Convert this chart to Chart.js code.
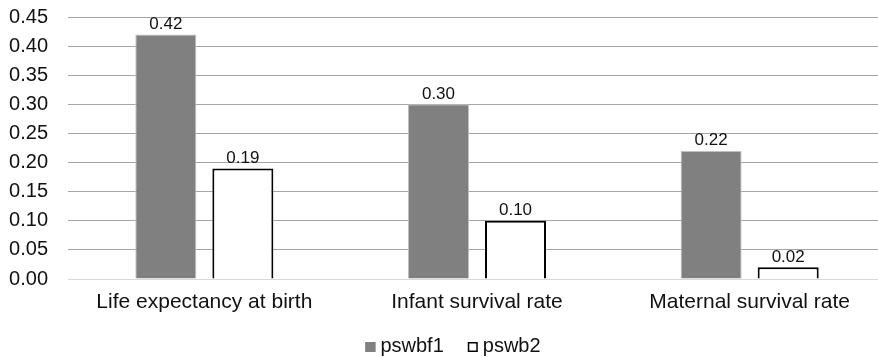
<!DOCTYPE html>
<html>
<head>
<meta charset="utf-8">
<script src="https://cdn.jsdelivr.net/npm/chart.js@4/dist/chart.umd.min.js"></script>
<style>
  html, body { margin: 0; padding: 0; background: #fff; overflow: hidden; }
  #wrap { width: 886px; height: 357px; }
</style>
</head>
<body>
<div id="wrap"><canvas id="c" width="886" height="357"></canvas></div>
<script>
const categories = ['Life expectancy at birth', 'Infant survival rate', 'Maternal survival rate'];
const seriesNames = ['pswbf1', 'pswb2'];
const pswbf1 = [0.42, 0.30, 0.22];
const pswb2 = [0.19, 0.10, 0.02];
const yTicks = [0.00, 0.05, 0.10, 0.15, 0.20, 0.25, 0.30, 0.35, 0.40, 0.45];

const FONT = '"Liberation Sans", Arial, sans-serif';

// value labels above each bar
const valueLabels = {
  id: 'valueLabels',
  afterDatasetsDraw(chart) {
    const ctx = chart.ctx;
    ctx.save();
    ctx.font = '17px ' + FONT;
    ctx.fillStyle = '#111';
    ctx.textAlign = 'center';
    ctx.textBaseline = 'bottom';
    chart.data.datasets.forEach((ds, i) => {
      chart.getDatasetMeta(i).data.forEach((el, j) => {
        ctx.fillText(ds.data[j].toFixed(2), el.x, el.y - 2);
      });
    });
    ctx.restore();
  }
};

// legend under the axis: square marker followed by the series name
const squareLegend = {
  id: 'squareLegend',
  afterDraw(chart) {
    const ctx = chart.ctx;
    ctx.save();
    ctx.font = '20px ' + FONT;
    ctx.textBaseline = 'middle';
    const box = 10, gapText = 5, gapItem = 24;
    const items = chart.data.datasets.map(ds => ({
      text: ds.label, fill: ds.backgroundColor, stroke: ds.legendStroke
    }));
    let total = 0;
    items.forEach((it, i) => {
      it.w = box + gapText + ctx.measureText(it.text).width;
      total += it.w + (i ? gapItem : 0);
    });
    const cy = 346;
    let x = (chart.chartArea.left + chart.chartArea.right) / 2 - 24 - total / 2;
    items.forEach(it => {
      ctx.fillStyle = it.fill;
      ctx.fillRect(x, cy - box / 2 + 1, box, box);
      ctx.strokeStyle = it.stroke;
      ctx.lineWidth = 1.5;
      ctx.strokeRect(x + 0.75, cy - box / 2 + 1.75, box - 1.5, box - 1.5);
      ctx.fillStyle = '#111';
      ctx.textAlign = 'left';
      ctx.fillText(it.text, x + box + gapText, cy);
      x += it.w + gapItem;
    });
    ctx.restore();
  }
};

new Chart(document.getElementById('c'), {
  type: 'bar',
  data: {
    labels: categories,
    datasets: [
      {
        label: seriesNames[0],
        data: pswbf1,
        backgroundColor: '#808080',
        borderColor: '#bfbfbf',
        borderWidth: 1,
        borderSkipped: 'bottom',
        legendStroke: '#808080'
      },
      {
        label: seriesNames[1],
        data: pswb2,
        backgroundColor: '#ffffff',
        borderColor: '#000000',
        borderWidth: 2,
        borderSkipped: 'bottom',
        legendStroke: '#000000'
      }
    ]
  },
  options: {
    responsive: false,
    animation: false,
    devicePixelRatio: 1,
    categoryPercentage: 0.565,
    barPercentage: 0.792,
    layout: { padding: { top: 17, right: 0, bottom: 0, left: 0 } },
    plugins: {
      legend: { display: false },
      tooltip: { enabled: false }
    },
    scales: {
      x: {
        grid: { display: false, drawTicks: false },
        border: { display: true, color: '#d9d9d9', width: 1 },
        ticks: {
          font: { family: FONT, size: 21 },
          color: '#111',
          padding: 11,
          maxRotation: 0
        },
        afterFit(scale) { scale.height = 78; }
      },
      y: {
        min: 0,
        max: 0.45,
        afterBuildTicks(scale) { scale.ticks = yTicks.map(v => ({ value: v })); },
        grid: {
          color: ctx => ctx.tick && ctx.tick.value === 0 ? 'rgba(0,0,0,0)' : '#a6a6a6',
          lineWidth: 1,
          drawTicks: false
        },
        border: { display: false },
        ticks: {
          font: { family: FONT, size: 20 },
          color: '#111',
          padding: 20,
          callback: v => Number(v).toFixed(2)
        },
        afterFit(scale) {
          scale.width = 68;
          scale.paddingTop = 0;
          scale.paddingBottom = 0;
        }
      }
    }
  },
  plugins: [valueLabels, squareLegend]
});
</script>
</body>
</html>
